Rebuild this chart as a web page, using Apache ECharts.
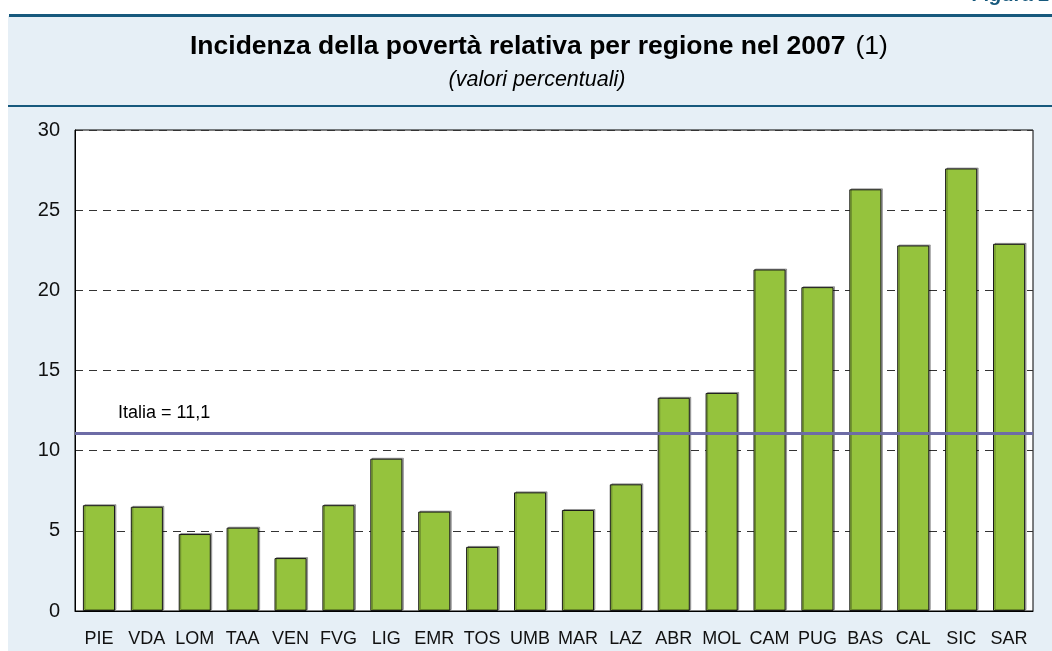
<!DOCTYPE html>
<html>
<head>
<meta charset="utf-8">
<script src="https://cdn.jsdelivr.net/npm/echarts@6/dist/echarts.min.js"></script>
<style>
  html, body { margin: 0; padding: 0; background: #ffffff; }
  #chart { width: 1052px; height: 651px; }
</style>
</head>
<body>
<div id="chart"></div>
<script>
// Regional relative poverty incidence, 2007 (percent)
const regions = ['PIE', 'VDA', 'LOM', 'TAA', 'VEN', 'FVG', 'LIG', 'EMR', 'TOS', 'UMB',
                 'MAR', 'LAZ', 'ABR', 'MOL', 'CAM', 'PUG', 'BAS', 'CAL', 'SIC', 'SAR'];
const incidence = [6.6, 6.5, 4.8, 5.2, 3.3, 6.6, 9.5, 6.2, 4.0, 7.4,
                   6.3, 7.9, 13.3, 13.6, 21.3, 20.2, 26.3, 22.8, 27.6, 22.9];
const italiaValue = 11.1;
const yTicks = [0, 5, 10, 15, 20, 25, 30];

const font = '"Liberation Sans", Arial, sans-serif';
const teal = '#17597d';
const panel = '#e6eff6';

const chart = echarts.init(document.getElementById('chart'), null, { renderer: 'canvas' });

chart.setOption({
  animation: false,
  backgroundColor: '#ffffff',
  textStyle: { fontFamily: font },
  graphic: [
    { type: 'rect', z: -10, shape: { x: 8, y: 16, width: 1044, height: 635 }, style: { fill: panel } },
    { type: 'rect', z: -9, shape: { x: 9, y: 14, width: 1043, height: 3 }, style: { fill: teal } },
    { type: 'rect', z: -9, shape: { x: 8, y: 105, width: 1044, height: 2 }, style: { fill: teal } },
    {
      type: 'text', x: 1050, y: 5, z: 5,
      style: {
        text: 'Figura 2', align: 'right', verticalAlign: 'bottom',
        font: 'italic bold 20px ' + font, fill: teal
      }
    },
    {
      type: 'text', x: 190, y: 47, z: 5,
      style: {
        text: '{b|Incidenza della povertà relativa per regione nel 2007}{n|(1)}',
        align: 'left', verticalAlign: 'middle',
        rich: {
          b: { fontFamily: font, fontSize: 26.5, fontWeight: 'bold', fill: '#000' },
          n: { fontFamily: font, fontSize: 26.5, fontWeight: 'normal', fill: '#000', padding: [0, 0, 0, 10] }
        }
      }
    },
    {
      type: 'text', x: 537, y: 80, z: 5,
      style: {
        text: '(valori percentuali)', align: 'center', verticalAlign: 'middle',
        font: 'italic 21.5px ' + font, fill: '#000'
      }
    }
  ],
  grid: {
    left: 75, right: 19, top: 130, bottom: 40,
    show: true, backgroundColor: '#ffffff', borderColor: '#000', borderWidth: 1
  },
  xAxis: {
    type: 'category',
    data: regions,
    axisLine: { show: true, lineStyle: { color: '#000', width: 1 } },
    axisTick: { show: false },
    axisLabel: { color: '#111', fontSize: 18, fontFamily: font, margin: 19, interval: 0 }
  },
  yAxis: {
    type: 'value',
    min: yTicks[0], max: yTicks[yTicks.length - 1], interval: 5,
    axisLine: { show: true, lineStyle: { color: '#000', width: 1 } },
    axisTick: { show: false },
    axisLabel: { color: '#111', fontSize: 20, fontFamily: font, margin: 15 },
    splitLine: { show: true, lineStyle: { color: '#333', width: 1, type: [8, 6] } }
  },
  series: [{
    type: 'bar',
    data: incidence,
    barWidth: '67%',
    itemStyle: {
      color: '#95c33d', borderColor: '#1a1a1a', borderWidth: 1,
      shadowColor: 'rgba(0,0,0,0.3)', shadowOffsetX: 1.5, shadowOffsetY: -1, shadowBlur: 0
    },
    markLine: {
      silent: true,
      symbol: 'none',
      lineStyle: { color: '#6d6ca6', width: 3, type: 'solid' },
      label: {
        show: true,
        position: 'insideStartTop',
        formatter: 'Italia = 11,1',
        color: '#000',
        fontSize: 18,
        fontFamily: font,
        padding: [0, 0, 6, 38]
      },
      data: [{ yAxis: italiaValue }]
    }
  }]
});
</script>
</body>
</html>
